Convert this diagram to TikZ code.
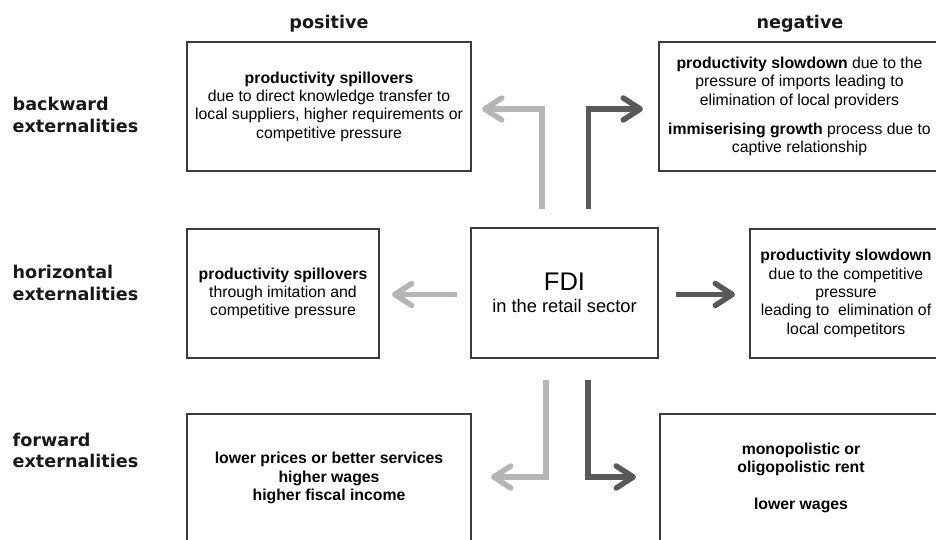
\documentclass[tikz,border=0pt]{standalone}
\usepackage{fontspec}
\setmainfont{Liberation Sans}
\newfontfamily\headfont{DejaVu Sans}
\usepackage{tikz}
\usetikzlibrary{positioning,arrows.meta}

\definecolor{poscol}{HTML}{B4B5B8}
\definecolor{negcol}{HTML}{58595B}
\definecolor{boxcol}{HTML}{3C3C3C}
\newcommand{\boxfont}{\fontsize{15.8pt}{18.3pt}\selectfont}

\begin{document}
\begin{tikzpicture}[x=1pt, y=-1pt,
    bb/.style={%
      rectangle, draw=boxcol, line width=1.1pt, fill=white,
      inner sep=2pt, align=center, text=black, font=\boxfont
    },
    hd/.style={%
      inner sep=0pt, align=left, text=black!90,
      font=\headfont\bfseries\fontsize{17.6pt}{21.8pt}\selectfont
    },
    posarr/.style={%
      draw=poscol, line width=5.5pt,
      -{Straight Barb[length=17pt, width=22pt, round]}
    },
    negarr/.style={posarr, draw=negcol}
]
    \path[use as bounding box] (0,0) rectangle (936,540);
    \clip (0,0) rectangle (936,540);

    % column and row headings
    \node[hd, anchor=base] (poshd) at (329,29)  {positive};
    \node[hd, anchor=base] (neghd) at (800,29)  {negative};
    \node[hd, anchor=west] (bwd) at (12.5,115)   {backward\\externalities};
    \node[hd, anchor=west] (hor) at (12.5,283)   {horizontal\\externalities};
    \node[hd, anchor=west] (fwd) at (12.5,450.5) {forward\\externalities};

    % boxes
    \node[bb, minimum width=284pt, minimum height=129pt] (bpos) at (329,106.5)
      {\textbf{productivity spillovers}\\due to direct knowledge transfer to\\local suppliers, higher requirements or\\competitive pressure};
    \node[bb, minimum width=281pt, minimum height=129pt] (bneg) at (799.5,106.5)
      {\textbf{productivity slowdown} due to the\\pressure of imports leading to\\elimination of local providers\\[11pt]\textbf{immiserising growth} process due to\\captive relationship};
    \node[bb, minimum width=192pt, minimum height=129pt] (hpos) at (283,293.5)
      {\textbf{productivity spillovers}\\through imitation and\\competitive pressure};
    \node[bb, minimum width=187pt, minimum height=130pt,
          font=\fontsize{18.3pt}{22pt}\selectfont] (fdi) at (564.5,293)
      {{\fontsize{25.5pt}{22pt}\selectfont FDI}\\in the retail sector};
    \node[bb, minimum width=192pt, minimum height=129pt] (hneg) at (846,293.5)
      {\textbf{productivity slowdown}\\due to the competitive\\pressure\\leading to~ elimination of\\local competitors};
    \node[bb, minimum width=284pt, minimum height=128pt, font=\boxfont\bfseries] (fpos) at (329,478)
      {lower prices or better services\\higher wages\\higher fiscal income};
    \node[bb, minimum width=282pt, minimum height=128pt, font=\boxfont\bfseries] (fneg) at (801,478)
      {monopolistic or\\oligopolistic rent\\[18.3pt]lower wages};

    % arrow ends
    \coordinate (bp0) at (542,209);   \coordinate (bp1) at (482,109);
    \coordinate (bn0) at (588.5,209); \coordinate (bn1) at (643,109);
    \coordinate (hp0) at (457,294.5); \coordinate (hp1) at (392,294.5);
    \coordinate (hn0) at (676,294.5); \coordinate (hn1) at (735,294.5);
    \coordinate (fp0) at (546,380);   \coordinate (fp1) at (491,477);
    \coordinate (fn0) at (588,380);   \coordinate (fn1) at (636,477);

    \draw[posarr] (bp0) |- (bp1);
    \draw[negarr] (bn0) |- (bn1);
    \draw[posarr] (hp0) -- (hp1);
    \draw[negarr] (hn0) -- (hn1);
    \draw[posarr] (fp0) |- (fp1);
    \draw[negarr] (fn0) |- (fn1);

\end{tikzpicture}
\end{document}
